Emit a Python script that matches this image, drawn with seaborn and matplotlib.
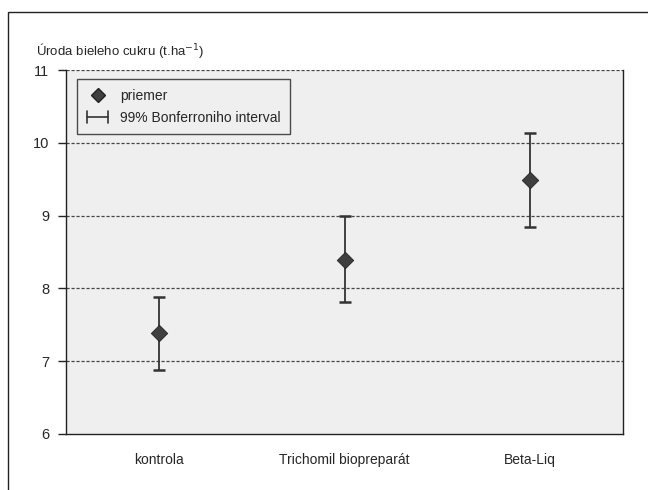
import matplotlib
matplotlib.use("Agg")
import matplotlib.pyplot as plt
import seaborn as sns
import pandas as pd
import numpy as np
from matplotlib.lines import Line2D
from matplotlib.patches import Rectangle
from matplotlib.legend_handler import HandlerBase
from matplotlib import font_manager

categories = ["kontrola", "Trichomil biopreparát", "Beta-Liq"]
means = [7.39, 8.39, 9.49]
lower = [6.88, 7.81, 8.85]
upper = [7.88, 9.00, 10.14]
yticks = [6, 7, 8, 9, 10, 11]

sns.set_theme(style="white")
names = {f.name for f in font_manager.fontManager.ttflist}
fam = "Liberation Sans Narrow" if "Liberation Sans Narrow" in names else "Liberation Sans"
plt.rcParams['font.family'] = [fam, 'DejaVu Sans']

df = pd.DataFrame({"kategoria": categories, "priemer": means, "dolna": lower, "horna": upper})

W, H = 648, 490
fig = plt.figure(figsize=(W / 100, H / 100), dpi=100)
fig.patch.set_facecolor("white")
# outer frame
fig.add_artist(Rectangle((8 / W, -0.1), 1.0, (H - 12) / H + 0.1, transform=fig.transFigure,
                         fill=False, edgecolor="#222222", linewidth=1.0))

ax = fig.add_axes([66 / W, (H - 433.8) / H, 557 / W, 363.5 / H])
ax.set_facecolor("#EEEFEE")

x = np.arange(len(categories))
ax.errorbar(x, df["priemer"], yerr=[df["priemer"] - df["dolna"], df["horna"] - df["priemer"]],
            fmt="none", ecolor="#333333", elinewidth=1.3, capsize=4.2, capthick=1.8, zorder=3)
sns.scatterplot(data=df, x="kategoria", y="priemer", marker="D", s=70, color="#3F3F3F",
                edgecolor="#222222", linewidth=0.6, ax=ax, zorder=4, legend=False)

ax.set_xlim(-0.5, 2.5)
ax.set_ylim(6, 11)
ax.set_yticks(yticks)
ax.set_yticklabels([str(v) for v in yticks], fontsize=10.5)
ax.set_xticks([-0.5, 0.5, 1.5, 2.5])
ax.set_xticklabels([])
ax.set_xticks(x, minor=True)
ax.set_xticklabels(categories, minor=True, fontsize=10)
ax.tick_params(axis="x", which="major", direction="out", length=5, width=1, color="#222222")
ax.tick_params(axis="x", which="minor", length=0, pad=14)
ax.tick_params(axis="y", direction="out", length=6, width=1, color="#222222", pad=6, left=True)
ax.set_xlabel("")
ax.set_ylabel("")

for v in yticks[1:]:
    ax.axhline(v, color="#444444", linestyle=(0, (2.5, 1.5)), linewidth=0.9, zorder=1)

for s in ["left", "bottom", "right"]:
    ax.spines[s].set_visible(True)
    ax.spines[s].set_color("#222222")
    ax.spines[s].set_linewidth(1.0)
ax.spines["top"].set_visible(False)

fig.text(36 / W, 1 - 50 / H, "Úroda bieleho cukru (t.ha$^{-1}$)", fontsize=9.5, va="center", ha="left")


class HandlerInterval(HandlerBase):
    def create_artists(self, legend, orig_handle, xdescent, ydescent, width, height, fontsize, trans):
        cx = width / 2 - xdescent
        cy = height / 2 - ydescent
        w = 7.5
        h = 4.5
        l1 = Line2D([cx - w, cx + w], [cy, cy], color="#333333", lw=1.2, transform=trans)
        l2 = Line2D([cx - w, cx - w], [cy - h, cy + h], color="#333333", lw=1.2, transform=trans)
        l3 = Line2D([cx + w, cx + w], [cy - h, cy + h], color="#333333", lw=1.2, transform=trans)
        return [l1, l2, l3]


handles = [
    Line2D([], [], marker="D", linestyle="none", markersize=7.5, color="#3F3F3F", markeredgecolor="#222222"),
    Line2D([], [], linestyle="-", color="#333333"),
]
leg = ax.legend(handles, ["priemer", "99% Bonferroniho interval"],
                handler_map={handles[1]: HandlerInterval()},
                loc="upper left", bbox_to_anchor=(11 / 557, 1 - 9 / 363.5), fontsize=10,
                frameon=True, fancybox=False, edgecolor="#222222", facecolor="#EEEFEE",
                borderpad=0.7, labelspacing=0.55, handlelength=1.6, handletextpad=0.8, borderaxespad=0)
leg.get_frame().set_linewidth(1.0)

fig.savefig("out.png", dpi=100)
